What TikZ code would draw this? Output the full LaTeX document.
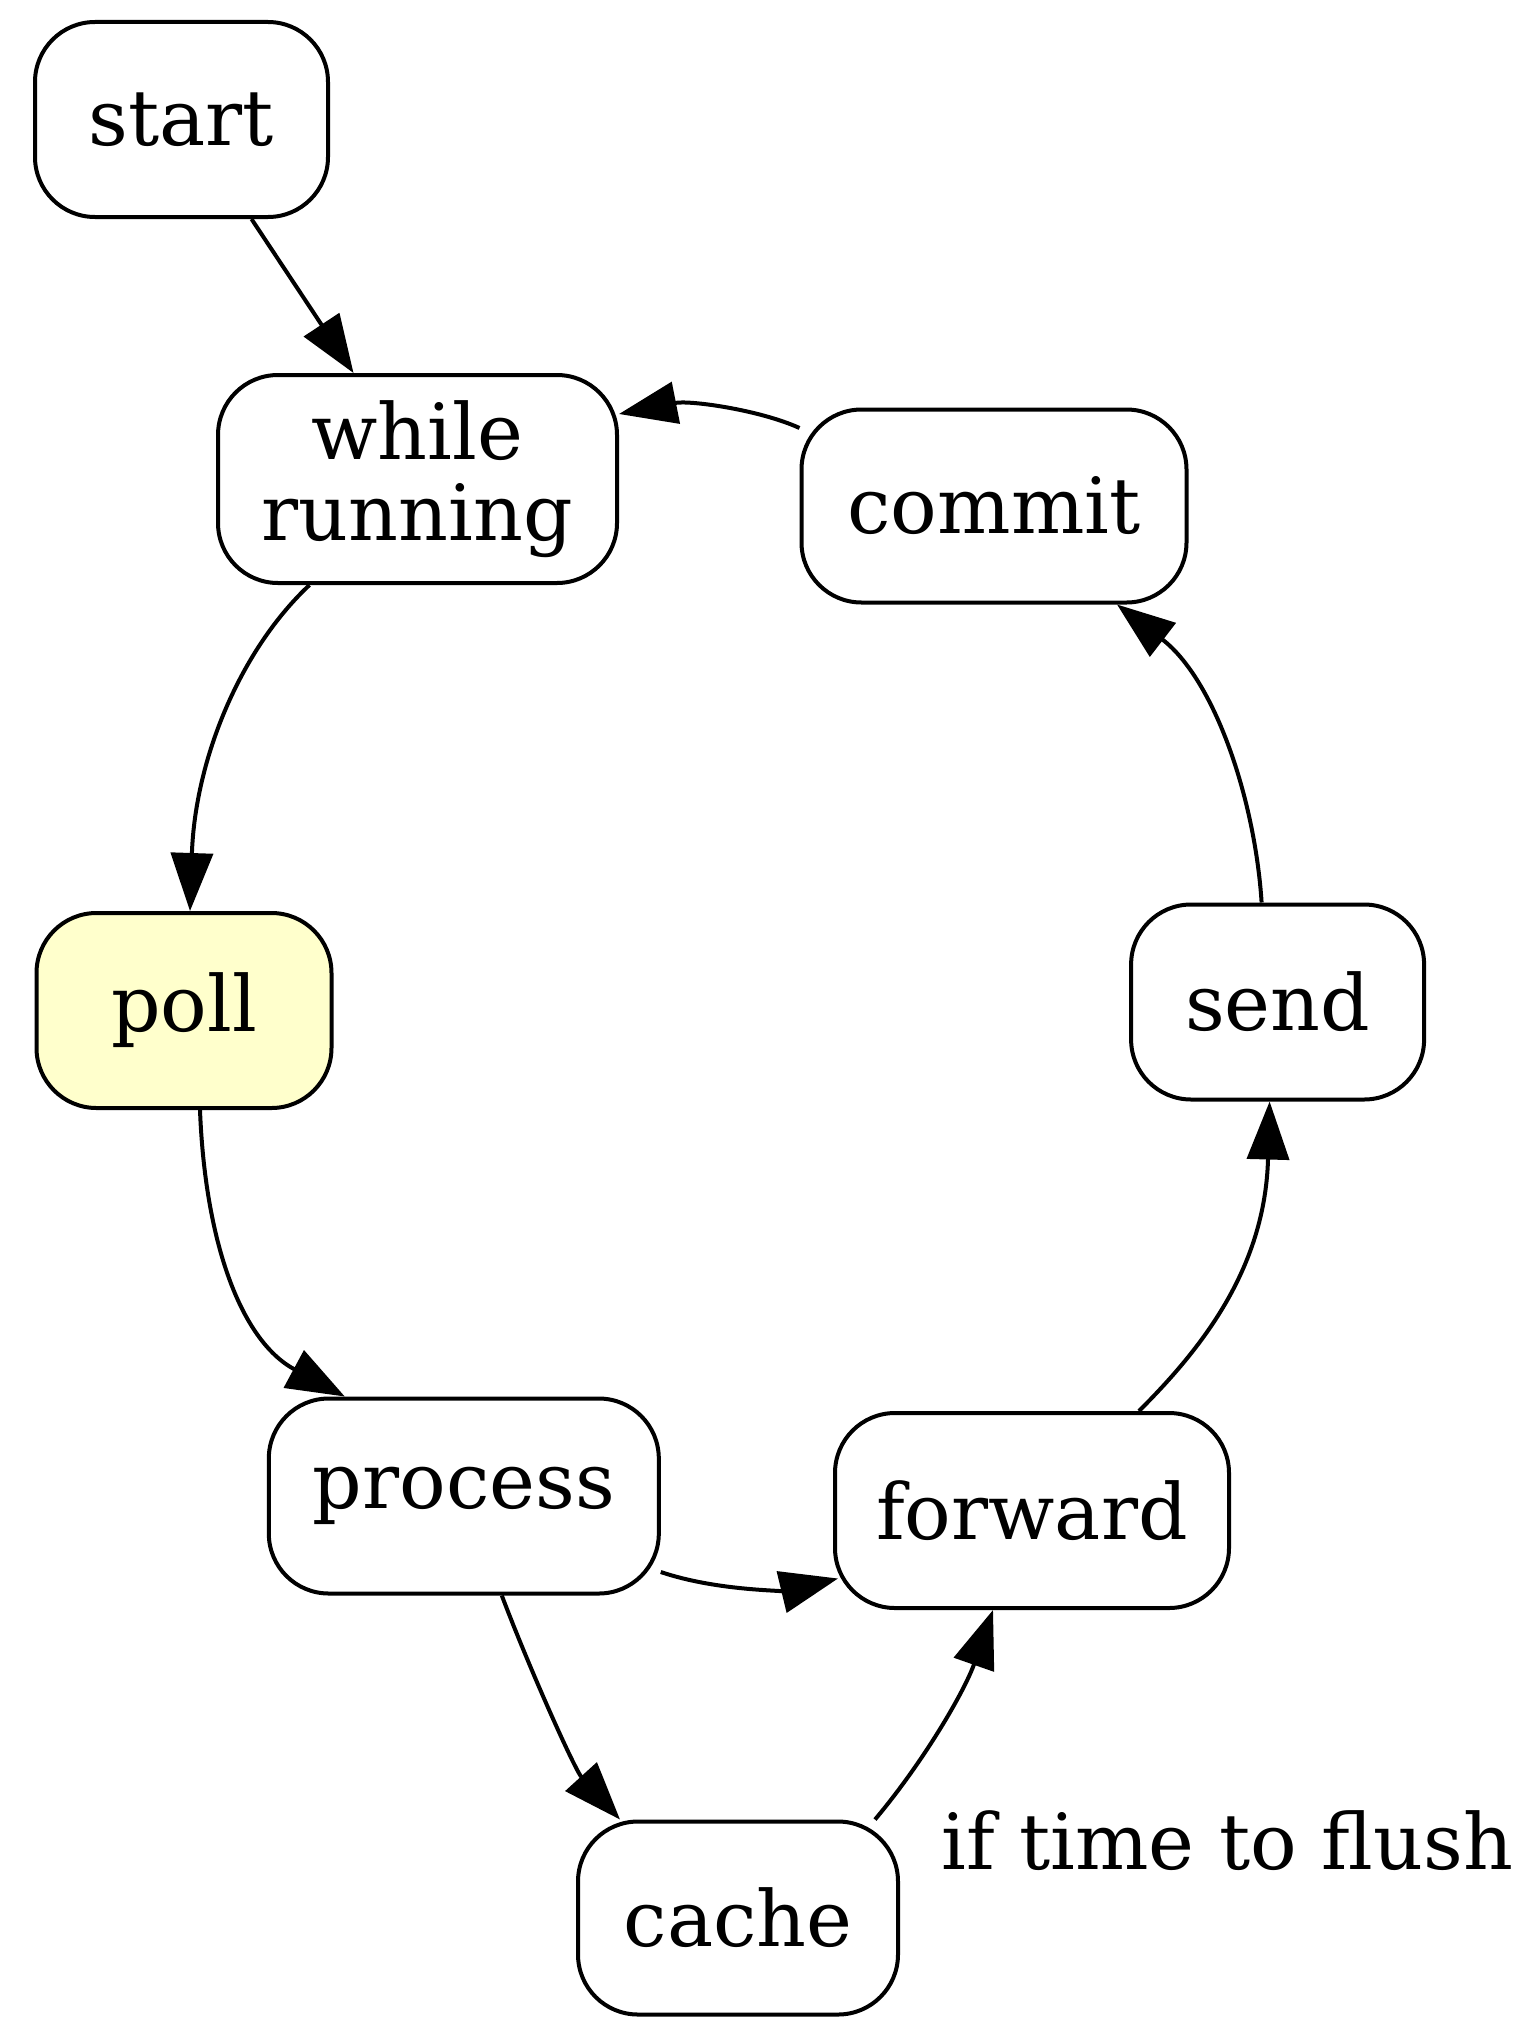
\documentclass[tikz,border=0pt]{standalone}
\usepackage{fontspec}
\setmainfont{DejaVu Serif}
\usetikzlibrary{arrows.meta}
\definecolor{pollfill}{HTML}{FFFFCC}
\begin{document}
\begin{tikzpicture}[x=1pt,y=-1pt,
  state/.style={draw=black, line width=4pt, rounded corners=60pt,
    minimum height=195pt, inner sep=0pt, align=center,
    font=\fontsize{77.5}{81}\selectfont},
  arr/.style={draw=black, line width=4pt,
    -{Triangle[length=58pt,width=42pt]}},
  lbl/.style={font=\fontsize{77.5}{81}\selectfont, inner sep=0pt}]
\useasboundingbox (0,0) rectangle (1531,2018);

% states of the loop
\node[state, minimum width=293pt] (start)   at (181.5,119.5) {start};
\node[state, minimum width=399pt, minimum height=208pt] (while) at (417.5,479) {while\\running};
\node[state, minimum width=385pt, minimum height=193pt] (commit) at (994,506) {commit};
\node[state, minimum width=295pt, fill=pollfill] (poll) at (184,1010.5) {poll};
\node[state, minimum width=293pt] (send)    at (1277.6,1002) {send};
\node[state, minimum width=390pt] (process) at (463.8,1496) {process};
\node[state, minimum width=394pt] (forward) at (1032,1510.5) {forward};
\node[state, minimum width=320pt, minimum height=193pt] (cache) at (738,1918) {cache};

% transitions (shifts are in page units: positive yshift is upwards)
\draw[arr] ([xshift=70pt]start.south) -- ([xshift=-64pt]while.north);
\draw[arr] ([xshift=-108pt]while.south) .. controls (240,650) and (195,760) .. ([xshift=6pt]poll.north);
\draw[arr] ([xshift=16pt]poll.south) .. controls (205,1240) and (240,1340) .. ([xshift=-119pt]process.north);
\draw[arr] ([yshift=-76pt]process.east) .. controls (720,1592) and (790,1590) .. ([xshift=5pt,yshift=-68pt]forward.west);
\draw[arr] ([xshift=38pt]process.south) .. controls (530,1670) and (575,1770) .. ([xshift=-118pt]cache.north);
\draw[arr] ([xshift=137pt]cache.north) .. controls (925,1760) and (965,1690) .. ([xshift=-39pt]forward.south);
\draw[arr] ([xshift=107pt]forward.north) .. controls (1200,1350) and (1265,1270) .. ([xshift=-8pt]send.south);
\draw[arr] ([xshift=-16pt]send.north) .. controls (1255,800) and (1215,680) .. ([xshift=123pt]commit.south);
\draw[arr] ([yshift=78pt]commit.west) .. controls (760,410) and (690,400) .. ([yshift=65pt]while.east);

% condition on the flush transition
\node[lbl, anchor=base west] (flushlabel) at (941,1869) {if time to flush};
\end{tikzpicture}
\end{document}
